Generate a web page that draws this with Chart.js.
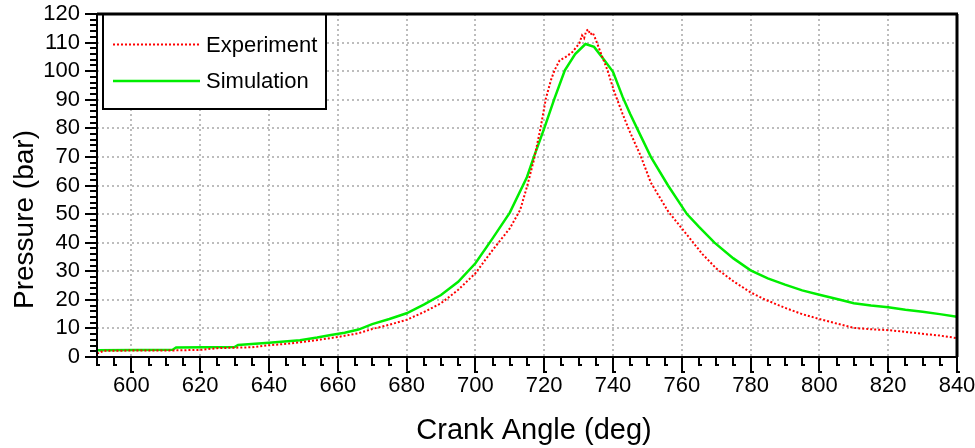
<!DOCTYPE html>
<html>
<head>
<meta charset="utf-8">
<script src="https://cdn.jsdelivr.net/npm/chart.js@4/dist/chart.umd.min.js"></script>
<style>
  body { margin: 0; background: #fff; }
  canvas { display: block; }
</style>
</head>
<body>
<canvas id="pressureChart" width="975" height="448"></canvas>
<script>
// axis ticks
let xTicks = [600, 620, 640, 660, 680, 700, 720, 740, 760, 780, 800, 820, 840];
let yTicks = [0, 10, 20, 30, 40, 50, 60, 70, 80, 90, 100, 110, 120];

// Experiment
let expAngle = [590, 592, 612, 620, 625, 635, 640, 645, 650, 655, 660, 666, 670, 675, 680, 685, 690, 695, 700, 705,
    710, 713, 715, 717, 719, 720.5, 722, 723, 724.5, 726.3, 728.2, 730.2, 731, 731.6, 732.2, 732.8, 733.4, 734.1, 735,
    736.5, 738.4, 740.3, 742.8, 745, 748, 751, 756, 762, 766, 770, 775, 780, 784, 790, 795, 800, 805, 810, 815, 820,
    825, 830, 835, 840];
let expPressure = [1.2, 2.2, 2.3, 2.5, 3.1, 3.4, 4.1, 4.6, 5.3, 6.1, 7.0, 8.3, 9.8, 11.3, 13.0, 15.7, 18.8, 23.5, 29.3, 37.4,
    45, 51.4, 59.6, 68.9, 80.5, 90.5, 97, 100.3, 103.8, 105, 106.7, 109.7, 112.5, 111.5, 114, 114.6, 112.8, 113.5, 111,
    106.2, 100.3, 93, 85, 78.5, 70.5, 61, 51, 42, 36, 31, 26.5, 22.6, 20.2, 17.2, 15, 13.3, 11.7, 10.2, 9.7, 9.4,
    8.8, 8.1, 7.5, 6.6];

// Simulation
let simAngle = [590, 612, 613, 630, 631, 640, 649, 654, 658, 662, 666, 670, 675, 680, 685, 690, 695, 700, 705, 710,
    715, 717, 720, 723, 726, 729, 732, 734.5, 737.5, 740, 742.8, 745, 747, 751, 756, 761.5, 765, 769.5, 775, 780,
    785, 790, 795, 800, 806, 810, 815, 820, 825, 830, 835, 840];
let simPressure = [2.4, 2.5, 3.3, 3.5, 4.2, 5.0, 5.9, 6.8, 7.7, 8.5, 9.6, 11.5, 13.3, 15.3, 18.3, 21.7, 26.3, 32.8, 41.5, 50.5,
    63, 70, 80, 90.5, 100.3, 106, 109.5, 108.5, 103.8, 99.8, 91, 85, 80, 70, 60, 50, 45.5, 40, 34.5, 30.3,
    27.5, 25.3, 23.3, 21.8, 20, 18.8, 18, 17.4, 16.5, 15.8, 15, 14.1];

let fontFamily = "'Liberation Sans', Arial, sans-serif";
Chart.defaults.font.family = fontFamily;
Chart.defaults.color = '#000';

function toPoints(xs, ys) {
    return xs.map((v, i) => ({ x: v, y: ys[i] }));
}

// frame, hooked tick marks, legend box and axis titles
let framePlugin = {
    id: 'frame',
    afterDatasetsDraw(chart) {
        let ctx = chart.ctx;
        let a = chart.chartArea;
        let x = chart.scales.x;
        let y = chart.scales.y;
        ctx.save();

        // legend
        ctx.fillStyle = '#fff';
        ctx.fillRect(103, a.top, 223, 95);
        ctx.strokeStyle = '#000';
        ctx.lineWidth = 2;
        ctx.strokeRect(103, a.top, 223, 95);
        let items = [[chart.data.datasets[0], 44.5, 51.5], [chart.data.datasets[1], 81, 87.5]];
        items.forEach(([ds, ly, ty]) => {
            ctx.beginPath();
            ctx.strokeStyle = ds.borderColor;
            ctx.lineWidth = ds.borderWidth;
            ctx.setLineDash(ds.borderDash || []);
            ctx.moveTo(113, ly);
            ctx.lineTo(200, ly);
            ctx.stroke();
            ctx.setLineDash([]);
            ctx.fillStyle = '#000';
            ctx.font = '22px ' + fontFamily;
            ctx.textAlign = 'left';
            ctx.textBaseline = 'alphabetic';
            ctx.fillText(ds.label, 206, ty);
        });

        // plot frame
        ctx.strokeStyle = '#000';
        ctx.lineWidth = 2;
        ctx.strokeRect(a.left, a.top, a.right - a.left, a.bottom - a.top);
        ctx.lineWidth = 3;
        ctx.beginPath();
        ctx.moveTo(a.left, a.top);
        ctx.lineTo(a.right + 1, a.top);
        ctx.moveTo(a.right, a.top);
        ctx.lineTo(a.right, a.bottom);
        ctx.stroke();

        // y tick marks, minor every 2
        ctx.lineWidth = 2;
        ctx.beginPath();
        for (let v = y.min; v <= y.max; v += 2) {
            let py = Math.round(y.getPixelForValue(v));
            let len = v % 10 === 0 ? 12 : 7;
            ctx.moveTo(a.left - len, py);
            ctx.lineTo(a.left, py);
        }
        ctx.stroke();

        // x tick marks, minor every 5, little foot at the bottom
        ctx.beginPath();
        for (let v = x.min; v <= x.max; v += 5) {
            let px = Math.round(x.getPixelForValue(v));
            let len = v % 20 === 0 ? 15 : 8;
            ctx.moveTo(px, a.bottom);
            ctx.lineTo(px, a.bottom + len);
            ctx.lineTo(px + 3, a.bottom + len);
        }
        ctx.stroke();

        // axis titles
        ctx.fillStyle = '#000';
        ctx.textBaseline = 'alphabetic';
        ctx.textAlign = 'center';
        ctx.font = '29px ' + fontFamily;
        ctx.fillText('Crank Angle (deg)', 534, 439);
        ctx.translate(33, 219.5);
        ctx.rotate(-Math.PI / 2);
        ctx.font = '28px ' + fontFamily;
        ctx.fillText('Pressure (bar)', 0, 0);

        ctx.restore();
    }
};

let ctx = document.getElementById('pressureChart').getContext('2d');

let pressureChart = new Chart(ctx, {
    type: 'line',
    data: {
        datasets: [{
            label: 'Experiment',
            data: toPoints(expAngle, expPressure),
            borderColor: '#ff0000',
            borderWidth: 2,
            borderDash: [2, 2],
            pointRadius: 0,
            tension: 0
        }, {
            label: 'Simulation',
            data: toPoints(simAngle, simPressure),
            borderColor: '#00ee00',
            borderWidth: 2.5,
            pointRadius: 0,
            tension: 0
        }]
    },
    options: {
        responsive: false,
        animation: false,
        devicePixelRatio: 1,
        layout: { padding: { top: 14, right: 18, left: 0, bottom: 0 } },
        plugins: {
            legend: { display: false },
            tooltip: { enabled: false }
        },
        scales: {
            x: {
                type: 'linear',
                min: 590,
                max: 840,
                afterBuildTicks: (scale) => { scale.ticks = xTicks.map(v => ({ value: v })); },
                afterFit: (scale) => {
                    scale.height = 91;
                    scale.paddingLeft = 0;
                    scale.paddingRight = 0;
                },
                grid: { color: '#bdbdbd', lineWidth: 2, drawTicks: false },
                border: { display: false, dash: [2, 3] },
                ticks: { padding: 16, font: { size: 22 }, maxRotation: 0, autoSkip: false }
            },
            y: {
                min: 0,
                max: 120,
                afterBuildTicks: (scale) => { scale.ticks = yTicks.map(v => ({ value: v })); },
                afterFit: (scale) => {
                    scale.width = 97;
                    scale.paddingTop = 0;
                    scale.paddingBottom = 0;
                },
                grid: { color: '#bdbdbd', lineWidth: 2, drawTicks: false },
                border: { display: false, dash: [2, 3] },
                ticks: { padding: 17, font: { size: 22 }, autoSkip: false }
            }
        }
    },
    plugins: [framePlugin]
});
</script>
</body>
</html>
